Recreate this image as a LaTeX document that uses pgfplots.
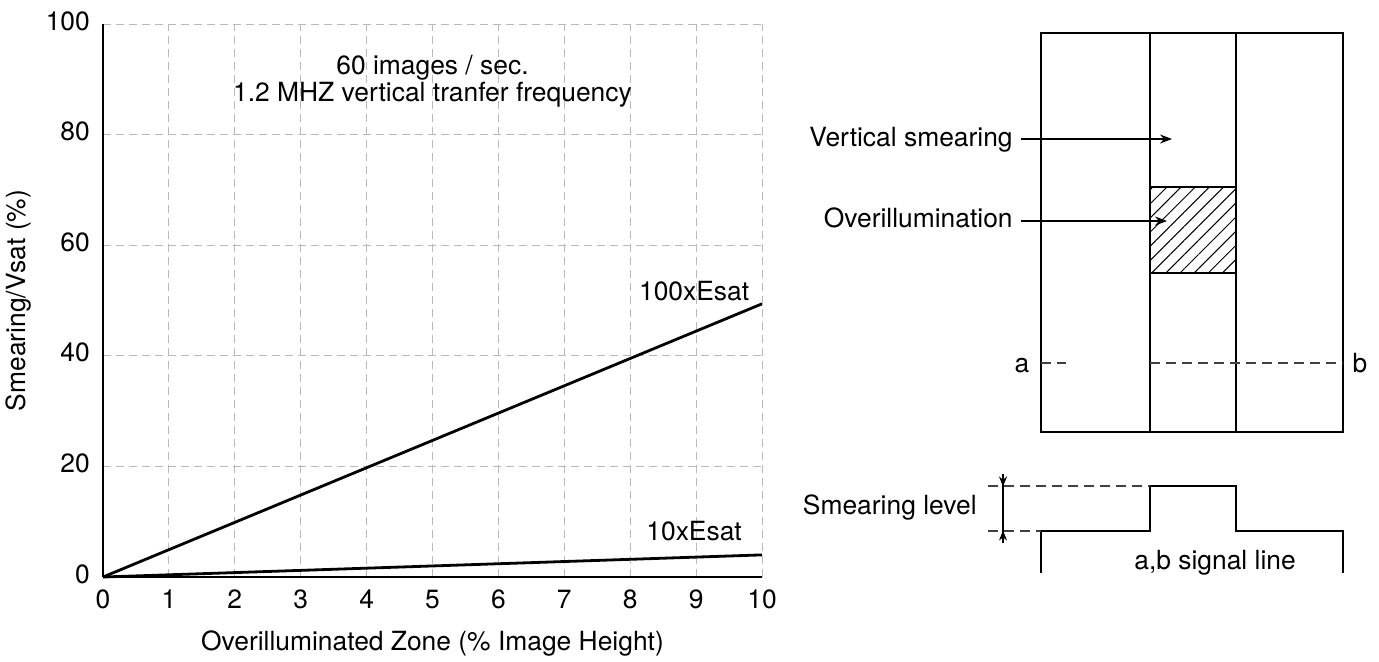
\documentclass[border=0pt]{standalone}
\usepackage{fontspec}
\setmainfont{TeX Gyre Heros}
\usepackage{pgfplots}
\pgfplotsset{compat=1.18}
\usetikzlibrary{patterns.meta,arrows.meta}
\begin{document}
\fontsize{13.2}{15.8}\selectfont
\begin{tikzpicture}
\path[use as bounding box] (0,0) rectangle (689.5pt,330.5pt);
% left: smearing vs. overilluminated zone
\begin{axis}[
  at={(51.5pt,42pt)}, anchor=south west,
  scale only axis, width=329.5pt, height=276.5pt,
  xmin=0, xmax=10, ymin=0, ymax=100,
  xtick={0,1,...,10}, ytick={0,20,...,100},
  axis lines=left, axis line style={-, line width=0.9pt},
  major tick length=0pt,
  grid=major,
  major grid style={gray!55, line width=0.5pt, dash pattern=on 4pt off 2.5pt},
  /pgf/number format/assume math mode=true,
  xticklabel style={yshift=-2pt},
  yticklabel style={xshift=-2pt, yshift=1.5pt},
  xlabel={Overilluminated Zone (\% Image Height)},
  ylabel={Smearing/Vsat (\%)},
  xlabel style={at={(axis description cs:0.5,-0.1205)}, anchor=center},
  ylabel style={at={(axis description cs:-0.128,0.5)}, anchor=center},
  clip=false,
]
\addplot[black, line width=1.4pt] coordinates {(0,0) (10,49.4)};
\addplot[black, line width=1.4pt] coordinates {(0,0) (10,4.0)};
\node[anchor=base, inner sep=0pt] at (axis cs:5,90.8) {60 images / sec.};
\node[anchor=base, inner sep=0pt] at (axis cs:5,85.9) {1.2 MHZ vertical tranfer frequency};
\node at (axis cs:8.97,51.7) {100xEsat};
\node at (axis cs:8.97,8.3) {10xEsat};
\end{axis}
% right: sensor sketch, in pixel units of the page
\begin{axis}[
  at={(0pt,0pt)}, anchor=south west,
  scale only axis, width=689.5pt, height=330.5pt,
  xmin=0, xmax=1379, ymin=0, ymax=661, y dir=reverse,
  hide axis, clip=false,
]
\draw[line width=1.2pt] (1041,33) rectangle (1343,432);
\draw[line width=1.2pt] (1150,33) rectangle (1236,432);
\draw[line width=1.2pt, pattern={Lines[angle=45,distance=5pt,line width=0.5pt]}] (1150,187) rectangle (1236,273);
\draw[line width=0.6pt, -{Stealth[length=6pt,width=4.5pt]}] (1021,139) -- (1172,139);
\draw[line width=0.6pt, -{Stealth[length=6pt,width=4.5pt]}] (1021,221) -- (1167,221);
\node[anchor=base east, inner sep=0pt] at (1013,146) {Vertical smearing};
\node[anchor=base east, inner sep=0pt] at (1013,227.5) {Overillumination};
\draw[black!75, line width=0.6pt, dash pattern=on 5pt off 3pt] (1041,363) -- (1066,363);
\draw[black!75, line width=0.6pt, dash pattern=on 5pt off 3pt] (1150,363) -- (1343,363);
\node[anchor=base, inner sep=0pt] at (1022,372) {a};
\node[anchor=base, inner sep=0pt] at (1360,372) {b};
% a,b signal line
\draw[line width=1.2pt] (1041,573) -- (1041,531) -- (1150,531) -- (1150,486) -- (1236,486) -- (1236,531) -- (1343,531) -- (1343,573);
\draw[black!75, line width=0.6pt, dash pattern=on 5pt off 3pt] (988,531) -- (1041,531);
\draw[black!75, line width=0.6pt, dash pattern=on 5pt off 3pt] (988,486) -- (1150,486);
\draw[line width=0.6pt] (1003,475) -- (1003,542);
\draw[line width=0.6pt, -{Stealth[length=5pt,width=4pt]}] (1003,474) -- (1003,486.5);
\draw[line width=0.6pt, -{Stealth[length=5pt,width=4pt]}] (1003,543) -- (1003,530.5);
\node[anchor=base east, inner sep=0pt] at (977,514) {Smearing level};
\node[anchor=base, inner sep=0pt] at (1215,569) {a,b signal line};
\end{axis}
\end{tikzpicture}
\end{document}
